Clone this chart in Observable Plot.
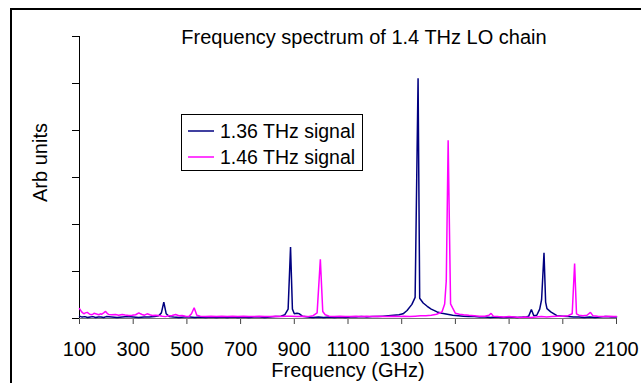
<!DOCTYPE html>
<html>
<head>
<meta charset="utf-8">
<script src="https://cdn.jsdelivr.net/npm/d3@7"></script>
<script src="https://cdn.jsdelivr.net/npm/@observablehq/plot@0.6"></script>
<style>
  html, body { margin: 0; padding: 0; background: #fff; }
  svg { display: block; }
</style>
</head>
<body>
<div id="chart"></div>
<script>
// ---- Data ----
const chartTitle = "Frequency spectrum of 1.4 THz LO chain";
const xLabel = "Frequency (GHz)";
const yLabel = "Arb units";
const seriesNames = ["1.36 THz signal", "1.46 THz signal"];
const seriesColors = ["#000080", "#FF00FF"];
const xTicks = [100, 300, 500, 700, 900, 1100, 1300, 1500, 1700, 1900, 2100];
const yTicks = [0, 1, 2, 3, 4, 5, 6];

const freq136 = [100,110,120,130,140,150,160,170,180,190,200,220,240,260,280,300,320,340,360,380,395,405,414,423,435,450,470,490,510,530,550,570,590,610,630,650,670,690,710,730,750,770,790,810,830,850,865,877,886,893,900,910,919,930,950,970,990,1010,1030,1050,1070,1090,1110,1130,1150,1170,1190,1210,1230,1250,1270,1290,1305,1320,1338,1350,1361,1367,1380,1395,1410,1432,1450,1470,1490,1510,1530,1550,1570,1590,1610,1630,1650,1670,1690,1710,1730,1750,1765,1773,1783,1792,1803,1814,1821,1830,1836,1841,1855,1878,1900,1920,1940,1960,1980,2000,2020,2040,2060,2080,2100];
const sig136  = [0.05,0.03,0.04,0.02,0.03,0.04,0.02,0.03,0.03,0.02,0.04,0.03,0.02,0.03,0.04,0.03,0.02,0.03,0.03,0.04,0.06,0.12,0.35,0.1,0.04,0.03,0.02,0.03,0.03,0.02,0.03,0.02,0.03,0.02,0.03,0.02,0.03,0.02,0.03,0.02,0.03,0.03,0.02,0.03,0.04,0.05,0.08,0.2,1.52,0.2,0.1,0.11,0.1,0.05,0.03,0.02,0.03,0.02,0.03,0.02,0.03,0.02,0.03,0.03,0.04,0.03,0.04,0.04,0.05,0.06,0.07,0.08,0.1,0.17,0.3,0.45,5.11,0.43,0.33,0.26,0.2,0.14,0.11,0.09,0.07,0.06,0.05,0.04,0.04,0.03,0.03,0.02,0.03,0.02,0.02,0.03,0.02,0.03,0.04,0.05,0.19,0.06,0.07,0.2,0.4,1.4,0.35,0.21,0.14,0.06,0.05,0.04,0.03,0.03,0.02,0.03,0.02,0.03,0.04,0.03,0.03];

const freq146 = [100,108,116,122,129,138,147,154,160,166,172,178,182,190,197,203,209,220,234,246,259,270,284,296,309,321,327,333,342,352,362,371,383,395,408,420,432,445,458,470,482,495,507,517,527,537,550,570,590,610,630,650,670,690,710,730,750,770,790,810,830,850,870,890,910,930,950,970,985,997,1006,1015,1030,1050,1070,1090,1110,1130,1150,1170,1190,1210,1230,1250,1270,1290,1310,1330,1350,1370,1390,1410,1430,1450,1460,1466,1473,1482,1490,1500,1515,1531,1550,1570,1590,1610,1625,1633,1641,1660,1680,1700,1720,1740,1760,1780,1800,1820,1840,1860,1880,1900,1920,1935,1944,1951,1960,1975,1990,2003,2012,2030,2050,2070,2090,2100];
const sig146  = [0.21,0.14,0.1,0.12,0.13,0.09,0.08,0.11,0.1,0.09,0.08,0.1,0.09,0.12,0.15,0.11,0.085,0.08,0.085,0.07,0.085,0.075,0.064,0.07,0.08,0.12,0.1,0.085,0.07,0.1,0.08,0.064,0.07,0.064,0.05,0.04,0.06,0.064,0.085,0.06,0.064,0.05,0.04,0.1,0.23,0.07,0.05,0.04,0.05,0.04,0.05,0.04,0.05,0.04,0.05,0.04,0.04,0.05,0.04,0.04,0.05,0.04,0.05,0.05,0.04,0.05,0.04,0.06,0.12,1.26,0.15,0.08,0.05,0.04,0.05,0.04,0.04,0.05,0.04,0.05,0.04,0.05,0.04,0.04,0.05,0.04,0.05,0.04,0.05,0.06,0.06,0.07,0.09,0.14,0.31,0.8,3.79,0.31,0.22,0.11,0.09,0.08,0.07,0.06,0.05,0.05,0.07,0.11,0.05,0.04,0.03,0.04,0.03,0.02,0.03,0.02,0.03,0.04,0.03,0.04,0.05,0.05,0.06,0.1,1.17,0.1,0.07,0.06,0.07,0.13,0.06,0.05,0.04,0.05,0.04,0.04];

// ---- Build table ----
const rows = [
  ...freq136.map((f, i) => ({ f, v: sig136[i], s: seriesNames[0] })),
  ...freq146.map((f, i) => ({ f, v: sig146[i], s: seriesNames[1] }))
];

const W = 641, H = 383;
const font = "'Liberation Sans', Arial, Helvetica, sans-serif";

const chart = Plot.plot({
  width: W,
  height: H,
  marginLeft: 79,
  marginRight: 25,
  marginTop: 36,
  marginBottom: 65,
  style: { fontFamily: font, fontSize: "20px", background: "#fff", color: "#000" },
  x: { domain: [100, 2100], label: null },
  y: { domain: [0, 6], label: null },
  color: { domain: seriesNames, range: seriesColors },
  marks: [
    Plot.axisX({ ticks: xTicks, tickSize: 6, tickPadding: 17, tickFormat: d => String(d), fontSize: 20, stroke: "#444", label: null }),
    Plot.axisY({ ticks: yTicks, tickSize: 7, tickFormat: () => "", stroke: "#000", label: null }),
    Plot.ruleY([0], { stroke: "#777", strokeWidth: 1 }),
    Plot.ruleX([100], { stroke: "#000", strokeWidth: 1 }),
    Plot.line(rows, { x: "f", y: "v", z: "s", stroke: "s", strokeWidth: 1.5, strokeLinejoin: "miter" })
  ]
});

document.getElementById("chart").appendChild(chart);

const svg = d3.select(chart);

// outer chart-area border (cut off at right and bottom, as in the reference)
svg.append("path")
  .attr("d", `M11,${H + 5} L11,9 L${W + 5},9`)
  .attr("fill", "none").attr("stroke", "#000").attr("stroke-width", 2);

// title
svg.append("text")
  .attr("x", 364).attr("y", 43.5)
  .attr("text-anchor", "middle")
  .attr("font-family", font).attr("font-size", 20).attr("fill", "#000")
  .text(chartTitle);

// x label
svg.append("text")
  .attr("x", 348).attr("y", 377)
  .attr("text-anchor", "middle")
  .attr("font-family", font).attr("font-size", 20).attr("fill", "#000")
  .text(xLabel);

// y label
svg.append("text")
  .attr("transform", "translate(47,162.5) rotate(-90)")
  .attr("text-anchor", "middle")
  .attr("font-family", font).attr("font-size", 20).attr("fill", "#000")
  .text(yLabel);

// legend
const lg = svg.append("g");
lg.append("rect")
  .attr("x", 181.5).attr("y", 114.5).attr("width", 181).attr("height", 56)
  .attr("fill", "#fff").attr("stroke", "#000").attr("stroke-width", 1);
const legendRows = [
  { name: seriesNames[0], color: seriesColors[0], ly: 131, ty: 137.5 },
  { name: seriesNames[1], color: seriesColors[1], ly: 157, ty: 163.5 }
];
legendRows.forEach(r => {
  lg.append("line")
    .attr("x1", 188).attr("x2", 214).attr("y1", r.ly).attr("y2", r.ly)
    .attr("stroke", r.color).attr("stroke-width", 1.5);
  lg.append("text")
    .attr("x", 220).attr("y", r.ty)
    .attr("text-anchor", "start")
    .attr("font-family", font).attr("font-size", 19.5).attr("fill", "#000")
    .text(r.name);
});
</script>
</body>
</html>
